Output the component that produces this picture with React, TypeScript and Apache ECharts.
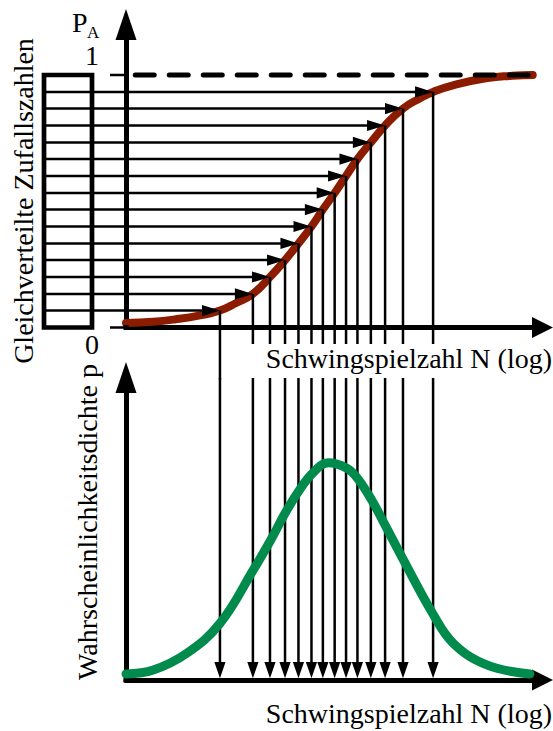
import React, { useEffect, useRef } from "react";
import * as echarts from "echarts";

// Uniformly distributed random numbers (levels of P_A) ...
const sampleP = [0.067, 0.133, 0.2, 0.267, 0.333, 0.4, 0.467, 0.533, 0.6, 0.667, 0.733, 0.8, 0.867, 0.933];
// ... and the cycle numbers (log N) they map to through the distribution curve
const sampleN = [2.31, 3.12, 3.54, 3.91, 4.24, 4.56, 4.84, 5.13, 5.41, 5.69, 6.02, 6.37, 6.81, 7.55];

// Cumulative distribution P_A over log N
const cdfN = [0, 0.67, 1.2, 1.82, 2.31, 2.72, 3.12, 3.54, 3.91, 4.24, 4.56, 4.84, 5.13, 5.41, 5.69, 6.02, 6.37, 6.81, 7.22, 7.55, 8.06, 8.88, 9.5, 10];
const cdfP = [0.018, 0.023, 0.032, 0.048, 0.067, 0.098, 0.133, 0.2, 0.267, 0.333, 0.4, 0.467, 0.533, 0.6, 0.667, 0.733, 0.8, 0.867, 0.907, 0.933, 0.96, 0.988, 0.997, 1.0];

// Probability density p over log N
const pdfN = [0, 0.67, 1.49, 2.31, 3.13, 3.58, 3.91, 4.24, 4.58, 4.97, 5.43, 5.69, 6.04, 6.39, 6.82, 7.54, 8.05, 8.87, 9.93];
const pdfP = [0.02, 0.033, 0.088, 0.187, 0.364, 0.468, 0.551, 0.623, 0.683, 0.718, 0.7, 0.667, 0.595, 0.507, 0.397, 0.22, 0.121, 0.05, 0.02];

const N_MAX = 10.24;
const PA_MAX = 1.2;
const P_MAX = 1;

const FONT_FAMILY = '"Liberation Serif", "Times New Roman", Tinos, "DejaVu Serif", serif';
const BROWN = "#8c1c00";
const GREEN = "#008a4b";
const INK = "#000";

const axisLine = (size: number[]) => ({
  show: true,
  onZero: false,
  symbol: ["none", "triangle"],
  symbolSize: size,
  lineStyle: { color: INK, width: 5 },
});
const bare = {
  axisTick: { show: false },
  axisLabel: { show: false },
  splitLine: { show: false },
};

const txt = (text: string, x: number, y: number, size: number, align: string, rotation = 0) => ({
  type: "text",
  x,
  y,
  rotation,
  style: {
    text,
    x: 0,
    y: 0,
    fill: INK,
    font: `${size}px ${FONT_FAMILY}`,
    align,
    verticalAlign: "middle",
  },
});

// Horizontal arrows from the random-number box to the curve, then down to the axis
const renderTopArrows = (params: any, api: any) => {
  const n = api.value(0);
  const p = api.value(1);
  const [x, y] = api.coord([n, p]);
  const [x0, y0] = api.coord([0, 0]);
  const continuous = params.dataIndex === 0;
  return {
    type: "group",
    children: [
      { type: "line", shape: { x1: x0 - 82, y1: y, x2: x - 16, y2: y }, style: { stroke: INK, lineWidth: 2.5 } },
      { type: "polygon", shape: { points: [[x - 18, y - 5.6], [x, y], [x - 18, y + 5.6]] }, style: { fill: INK } },
      { type: "line", shape: { x1: x, y1: y, x2: x, y2: y0 + (continuous ? 52 : 16.5) }, style: { stroke: INK, lineWidth: 2.5 } },
    ],
  };
};

// Lower part of the projection lines, ending in arrows on the N axis
const renderBottomArrows = (_params: any, api: any) => {
  const n = api.value(0);
  const [x, yb] = api.coord([n, 0]);
  const yTop = api.coord([n, P_MAX])[1];
  return {
    type: "group",
    children: [
      { type: "line", shape: { x1: x, y1: yTop + 0.5, x2: x, y2: yb - 15 }, style: { stroke: INK, lineWidth: 2.5 } },
      { type: "polygon", shape: { points: [[x - 5.6, yb - 18], [x + 5.6, yb - 18], [x, yb - 1.8]] }, style: { fill: INK } },
    ],
  };
};

// Square corner where the two axes of a panel meet
const renderCorner = (_params: any, api: any) => {
  const o = api.coord([0, 0]);
  return { type: "rect", shape: { x: o[0] - 2.5, y: o[1] - 2.5, width: 5, height: 5 }, style: { fill: INK } };
};

// Box of random numbers, ticks at 0 and 1, the P_A = 1 asymptote
const renderFrame = (_params: any, api: any) => {
  const o = api.coord([0, 0]);
  const one = api.coord([0, 1]);
  const end = api.coord([10, 1]);
  return {
    type: "group",
    children: [
      {
        type: "rect",
        shape: { x: o[0] - 82, y: one[1], width: 48, height: o[1] - one[1] },
        style: { fill: "none", stroke: INK, lineWidth: 4.7 },
      },
      { type: "rect", shape: { x: o[0] - 2.5, y: o[1] - 2.5, width: 5, height: 5 }, style: { fill: INK } },
      { type: "line", shape: { x1: o[0] - 16, y1: one[1], x2: o[0], y2: one[1] }, style: { stroke: INK, lineWidth: 2.5 } },
      { type: "line", shape: { x1: o[0] - 16, y1: o[1], x2: o[0], y2: o[1] }, style: { stroke: INK, lineWidth: 2.5 } },
      {
        type: "line",
        shape: { x1: o[0] + 9.25, y1: one[1], x2: end[0], y2: one[1] },
        style: { stroke: INK, lineWidth: 5, lineDash: [19, 15], lineCap: "round" },
      },
      txt("1", o[0] - 34, one[1] - 19.5, 28, "center"),
      txt("0", o[0] - 34, o[1] + 17, 28, "center"),
    ],
  };
};

const option: any = {
  animation: false,
  backgroundColor: "#fff",
  textStyle: { fontFamily: FONT_FAMILY },
  grid: [
    { left: 126, right: 10.5, top: 24.5, bottom: 403.5 },
    { left: 126, right: 10.5, top: 377.5, bottom: 51 },
  ],
  xAxis: [
    { gridIndex: 0, type: "value", min: 0, max: N_MAX, axisLine: axisLine([21, 21]), ...bare },
    { gridIndex: 1, type: "value", min: 0, max: N_MAX, axisLine: axisLine([21, 21]), ...bare },
  ],
  yAxis: [
    { gridIndex: 0, type: "value", min: 0, max: PA_MAX, axisLine: axisLine([21, 31]), ...bare },
    { gridIndex: 1, type: "value", min: 0, max: P_MAX, axisLine: axisLine([21, 31]), ...bare },
  ],
  series: [
    {
      name: "P_A",
      type: "line",
      xAxisIndex: 0,
      yAxisIndex: 0,
      data: cdfN.map((n, i) => [n, cdfP[i]]),
      smooth: 0.5,
      symbol: "none",
      clip: false,
      silent: true,
      z: 1,
      lineStyle: { color: BROWN, width: 8, cap: "round" },
    },
    {
      type: "custom",
      xAxisIndex: 0,
      yAxisIndex: 0,
      clip: false,
      silent: true,
      z: 3,
      data: sampleN.map((n, i) => [n, sampleP[i]]),
      renderItem: renderTopArrows,
    },
    {
      type: "custom",
      xAxisIndex: 0,
      yAxisIndex: 0,
      clip: false,
      silent: true,
      z: 5,
      data: [[0, 0]],
      renderItem: renderFrame,
    },
    {
      type: "custom",
      xAxisIndex: 1,
      yAxisIndex: 1,
      clip: false,
      silent: true,
      z: 2,
      data: sampleN.map((n) => [n, 0]),
      renderItem: renderBottomArrows,
    },
    {
      type: "custom",
      xAxisIndex: 1,
      yAxisIndex: 1,
      clip: false,
      silent: true,
      z: 2,
      data: [[0, 0]],
      renderItem: renderCorner,
    },
    {
      name: "p",
      type: "line",
      xAxisIndex: 1,
      yAxisIndex: 1,
      data: pdfN.map((n, i) => [n, pdfP[i]]),
      smooth: 0.4,
      symbol: "none",
      clip: false,
      silent: true,
      z: 3,
      lineStyle: { color: GREEN, width: 9, cap: "round" },
    },
  ],
  graphic: [
    txt("P", 72, 22, 28, "left"),
    txt("A", 87, 32, 17, "left"),
    txt("Gleichverteilte Zufallszahlen", 23, 201, 28, "center", Math.PI / 2),
    txt("Wahrscheinlichkeitsdichte p", 87.5, 522, 28, "center", Math.PI / 2),
    txt("Schwingspielzahl N (log)", 552, 358, 28, "right"),
    txt("Schwingspielzahl N (log)", 552, 713, 28, "right"),
  ],
};

export default function App() {
  const ref = useRef<HTMLDivElement>(null);
  useEffect(() => {
    const chart = echarts.init(ref.current!, null, { renderer: "svg" });
    chart.setOption(option);
    return () => chart.dispose();
  }, []);
  return (
    <div
      ref={ref}
      style={{ position: "fixed", left: 0, top: 0, width: 553, height: 731, background: "#fff" }}
    />
  );
}
